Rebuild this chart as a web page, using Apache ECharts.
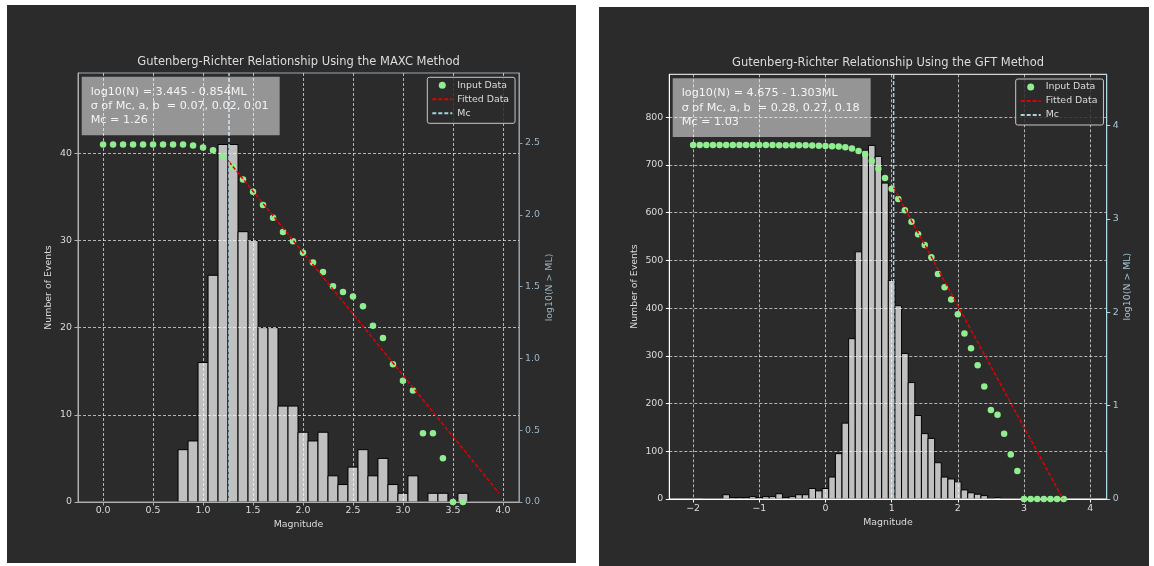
<!DOCTYPE html>
<html>
<head>
<meta charset="utf-8">
<script src="https://cdn.jsdelivr.net/npm/echarts@6/dist/echarts.min.js"></script>
<style>
html,body{margin:0;padding:0;background:#ffffff;}
#chart{width:1154px;height:566px;}
</style>
</head>
<body>
<div id="chart"></div>
<script>
// ===================== DATA: MAXC panel (left) =====================
const maxcTitle = 'Gutenberg-Richter Relationship Using the MAXC Method';
const maxcInfo = ['log10(N) = 3.445 - 0.854ML', 'σ of Mc, a, b  = 0.07, 0.02, 0.01', 'Mc = 1.26'];
const maxcBinWidth = 0.1;
const maxcBinCenters = [0.8, 0.9, 1.0, 1.1, 1.2, 1.3, 1.4, 1.5, 1.6, 1.7, 1.8, 1.9, 2.0, 2.1, 2.2, 2.3, 2.4, 2.5, 2.6, 2.7, 2.8, 2.9, 3.0, 3.1, 3.2, 3.3, 3.4, 3.5, 3.6];
const maxcCounts     = [6,   7,   16,  26,  41,  41,  31,  30,  20,  20,  11,  11,  8,   7,   8,   3,   2,   4,   6,   3,   5,   2,   1,   3,   0,   1,   1,   0,   1];
const maxcMags = [0.0, 0.1, 0.2, 0.3, 0.4, 0.5, 0.6, 0.7, 0.8, 0.9, 1.0, 1.1, 1.2, 1.3, 1.4, 1.5, 1.6, 1.7, 1.8, 1.9, 2.0, 2.1, 2.2, 2.3, 2.4, 2.5, 2.6, 2.7, 2.8, 2.9, 3.0, 3.1, 3.2, 3.3, 3.4, 3.5, 3.6];
const maxcLogN = [2.489, 2.489, 2.489, 2.489, 2.489, 2.489, 2.489, 2.489, 2.489, 2.482, 2.468, 2.449, 2.407, 2.333, 2.245, 2.161, 2.068, 1.980, 1.880, 1.815, 1.736, 1.668, 1.601, 1.503, 1.463, 1.431, 1.363, 1.228, 1.142, 0.959, 0.845, 0.777, 0.479, 0.479, 0.305, 0.0, 0.0];
const maxcFitX = [1.26, 3.96];
const maxcFitY = [2.369, 0.063];
const maxcMc = 1.26;
const maxcXRange = [-0.251, 4.161];
const maxcYMax = 49.2;
const maxcY2Max = 2.987;
const maxcXTicks = [0, 0.5, 1.0, 1.5, 2.0, 2.5, 3.0, 3.5, 4.0];
const maxcYTicks = [0, 10, 20, 30, 40];
const maxcY2Ticks = [0, 0.5, 1.0, 1.5, 2.0, 2.5];

// ===================== DATA: GFT panel (right) =====================
const gftTitle = 'Gutenberg-Richter Relationship Using the GFT Method';
const gftInfo = ['log10(N) = 4.675 - 1.303ML', 'σ of Mc, a, b  = 0.28, 0.27, 0.18', 'Mc = 1.03'];
const gftBinWidth = 0.1;
const gftBinCenters = [-1.8, -1.7, -1.6, -1.5, -1.4, -1.3, -1.2, -1.1, -1.0, -0.9, -0.8, -0.7, -0.6, -0.5, -0.4, -0.3, -0.2, -0.1, 0.0, 0.1, 0.2, 0.3, 0.4, 0.5, 0.6, 0.7, 0.8, 0.9, 1.0, 1.1, 1.2, 1.3, 1.4, 1.5, 1.6, 1.7, 1.8, 1.9, 2.0, 2.1, 2.2, 2.3, 2.4, 2.5, 2.6, 2.7, 2.8, 2.9];
const gftCounts     = [1,    1,    1,    9,    3,    3,    3,    5,    3,    5,    5,    11,   3,    5,    9,    9,    22,   17,   22,  46,  95,  159, 336, 518, 731, 741, 718, 662, 458, 405, 305, 244, 175, 137, 127, 76,  46,  42,  36,  19,  13,  10,  7,   1,   3,   1,   1,   1];
const gftMags = [-2.0, -1.9, -1.8, -1.7, -1.6, -1.5, -1.4, -1.3, -1.2, -1.1, -1.0, -0.9, -0.8, -0.7, -0.6, -0.5, -0.4, -0.3, -0.2, -0.1, 0.0, 0.1, 0.2, 0.3, 0.4, 0.5, 0.6, 0.7, 0.8, 0.9, 1.0, 1.1, 1.2, 1.3, 1.4, 1.5, 1.6, 1.7, 1.8, 1.9, 2.0, 2.1, 2.2, 2.3, 2.4, 2.5, 2.6, 2.7, 2.8, 2.9, 3.0, 3.1, 3.2, 3.3, 3.4, 3.5, 3.6];
const gftLogN = [3.790, 3.790, 3.790, 3.790, 3.790, 3.790, 3.789, 3.789, 3.789, 3.789, 3.789, 3.789, 3.789, 3.787, 3.787, 3.787, 3.787, 3.787, 3.785, 3.783, 3.780, 3.778, 3.773, 3.765, 3.753, 3.727, 3.689, 3.620, 3.537, 3.437, 3.322, 3.212, 3.091, 2.969, 2.834, 2.719, 2.587, 2.410, 2.267, 2.137, 1.978, 1.771, 1.613, 1.431, 1.204, 0.954, 0.903, 0.699, 0.477, 0.301, 0.0, 0.0, 0.0, 0.0, 0.0, 0.0, 0.0];
const gftFitX = [1.03, 3.59];
const gftFitY = [3.333, 0.0];
const gftMc = 1.03;
const gftXRange = [-2.36, 4.25];
const gftYMax = 890;
const gftY2Max = 4.547;
const gftXTicks = [-2, -1, 0, 1, 2, 3, 4];
const gftYTicks = [0, 100, 200, 300, 400, 500, 600, 700, 800];
const gftY2Ticks = [0, 1, 2, 3, 4];

const legendNames = ['Input Data', 'Fitted Data', 'Mc'];

// ===================== STYLE =====================
const FONT = 'DejaVu Sans';
const PANEL = '#2b2b2b';
const TXT = '#dcdcdc';
const GRIDLINE = { color: 'rgba(255,255,255,0.72)', type: [3, 2], width: 0.9 };
const NOSYM = { color: 'rgba(0,0,0,0)', borderWidth: 0, opacity: 0 };

function zip(a, b) { return a.map((v, i) => [v, b[i]]); }

function histRender(binW) {
  return function (params, api) {
    const c = api.value(0), n = api.value(1);
    if (!n) return null;
    const p0 = api.coord([c - binW / 2, n]);
    const p1 = api.coord([c + binW / 2, 0]);
    return {
      type: 'rect',
      shape: { x: p0[0], y: p0[1], width: p1[0] - p0[0], height: p1[1] - p0[1] },
      style: { fill: '#c0c0c0', stroke: '#000000', lineWidth: 1 }
    };
  };
}

function fmtDec1(v) { return v.toFixed(1); }
function fmtInt(v) { return v < 0 ? '\u2212' + Math.abs(v) : String(v); }

function xAxisCfg(grid, range, ticks, fmt, lineColor, margin, nameGap) {
  return {
    type: 'value', gridIndex: grid, min: range[0], max: range[1],
    name: 'Magnitude', nameLocation: 'middle', nameGap: nameGap,
    nameTextStyle: { color: TXT, fontSize: 9.4, fontFamily: FONT },
    axisLine: { show: true, onZero: false, lineStyle: { color: lineColor, width: 1 } },
    axisTick: { show: true, customValues: ticks, length: 3.5, lineStyle: { color: lineColor } },
    axisLabel: { customValues: ticks, formatter: fmt, color: TXT, fontSize: 9.4, fontFamily: FONT, margin: margin },
    splitLine: { show: true, lineStyle: GRIDLINE }
  };
}

function yLeftCfg(grid, max, ticks, lineColor, nameGap) {
  return {
    type: 'value', gridIndex: grid, position: 'left', min: 0, max: max,
    name: 'Number of Events', nameLocation: 'middle', nameGap: nameGap, nameRotate: 90,
    nameTextStyle: { color: TXT, fontSize: 9.4, fontFamily: FONT },
    axisLine: { show: true, onZero: false, lineStyle: { color: lineColor, width: 1 } },
    axisTick: { show: true, customValues: ticks, length: 3.5, lineStyle: { color: lineColor } },
    axisLabel: { customValues: ticks, color: TXT, fontSize: 9.4, fontFamily: FONT, margin: 6 },
    splitLine: { show: true, lineStyle: GRIDLINE }
  };
}

function yRightCfg(grid, max, ticks, fmt, lineColor, labelColor, nameGap) {
  return {
    type: 'value', gridIndex: grid, position: 'right', min: 0, max: max,
    name: 'log10(N > ML)', nameLocation: 'middle', nameGap: nameGap, nameRotate: 90,
    nameTextStyle: { color: labelColor, fontSize: 9.4, fontFamily: FONT },
    axisLine: { show: true, onZero: false, lineStyle: { color: lineColor, width: 1 } },
    axisTick: { show: true, customValues: ticks, length: 3.5, lineStyle: { color: lineColor } },
    axisLabel: { customValues: ticks, formatter: fmt, color: labelColor, fontSize: 9.4, fontFamily: FONT, margin: 6 },
    splitLine: { show: false }
  };
}

function panelSeries(xi, yi, y2i, centers, counts, binW, mags, logN, fitX, fitY, mc, y2Max) {
  return [
    {
      type: 'custom', name: 'hist', xAxisIndex: xi, yAxisIndex: yi, z: -1,
      renderItem: histRender(binW), data: zip(centers, counts), silent: true
    },
    {
      type: 'scatter', name: 'Input Data', xAxisIndex: xi, yAxisIndex: y2i, z: 3,
      symbol: 'circle', symbolSize: 6.5, itemStyle: { color: '#90ee90', opacity: 1 },
      data: zip(mags, logN), silent: true
    },
    {
      type: 'line', name: 'Fitted Data', xAxisIndex: xi, yAxisIndex: y2i, z: 4,
      symbol: 'none', lineStyle: { color: '#e00000', width: 1.5, type: [4, 2] },
      itemStyle: NOSYM,
      data: zip(fitX, fitY), silent: true
    },
    {
      type: 'line', name: 'Mc', xAxisIndex: xi, yAxisIndex: y2i, z: 4,
      symbol: 'none', lineStyle: { color: '#a8d0e2', width: 1.5, type: [4, 2] },
      itemStyle: NOSYM,
      data: [[mc, 0], [mc, y2Max]], silent: true
    }
  ];
}

function legendCfg(left, top) {
  return {
    data: legendNames, orient: 'vertical', left: left, top: top,
    itemWidth: 20, itemHeight: 7, itemGap: 0,
    padding: [1, 6, 3, 4],
    backgroundColor: 'rgba(43,43,43,0.85)', borderColor: '#c8c8c8', borderWidth: 1, borderRadius: 2,
    textStyle: { color: TXT, fontSize: 9.4, fontFamily: FONT, lineHeight: 14 },
    selectedMode: false
  };
}

function infoCfg(left, top, lines) {
  return {
    text: lines.join('\n'), left: left, top: top,
    padding: [8, 11, 8, 9],
    backgroundColor: 'rgba(255,255,255,0.5)',
    textStyle: { color: '#f4f4f4', fontSize: 11.2, fontWeight: 'normal', fontFamily: FONT, lineHeight: 14.2 }
  };
}

function titleCfg(cx, top, text) {
  return {
    text: text, left: cx, top: top, textAlign: 'center', padding: 0,
    textStyle: { color: TXT, fontSize: 11.5, fontWeight: 'normal', fontFamily: FONT }
  };
}

const option = {
  animation: false,
  backgroundColor: '#ffffff',
  graphic: [
    { type: 'rect', z: -100, shape: { x: 7, y: 5, width: 569, height: 558 }, style: { fill: PANEL } },
    { type: 'rect', z: -100, shape: { x: 599, y: 7, width: 550, height: 559 }, style: { fill: PANEL } }
  ],
  title: [
    titleCfg(298.5, 56.5, maxcTitle),
    titleCfg(888, 57.5, gftTitle),
    infoCfg(81.7, 76.7, maxcInfo),
    infoCfg(672.7, 78.3, gftInfo)
  ],
  legend: [legendCfg(427.3, 77.3), legendCfg(1015.7, 79)],
  grid: [
    { left: 78, top: 73, width: 441, height: 429, show: true, borderColor: '#9aaab5', borderWidth: 1, backgroundColor: 'transparent' },
    { left: 669.3, top: 74.3, width: 437.4, height: 424.7, show: true, borderColor: '#ffffff', borderWidth: 1, backgroundColor: 'transparent' }
  ],
  xAxis: [
    xAxisCfg(0, maxcXRange, maxcXTicks, fmtDec1, '#b0b0b0', 4, 17),
    xAxisCfg(1, gftXRange, gftXTicks, fmtInt, '#ffffff', 5, 18)
  ],
  yAxis: [
    yLeftCfg(0, maxcYMax, maxcYTicks, '#b0b0b0', 25),
    yRightCfg(0, maxcY2Max, maxcY2Ticks, fmtDec1, '#8aa4b4', '#9cb6c6', 26),
    yLeftCfg(1, gftYMax, gftYTicks, '#ffffff', 30),
    yRightCfg(1, gftY2Max, gftY2Ticks, fmtInt, '#add8e6', '#a8c8d8', 14)
  ],
  series: [].concat(
    panelSeries(0, 0, 1, maxcBinCenters, maxcCounts, maxcBinWidth, maxcMags, maxcLogN, maxcFitX, maxcFitY, maxcMc, maxcY2Max),
    panelSeries(1, 2, 3, gftBinCenters, gftCounts, gftBinWidth, gftMags, gftLogN, gftFitX, gftFitY, gftMc, gftY2Max)
  )
};

const chart = echarts.init(document.getElementById('chart'), null, { renderer: 'canvas' });
chart.setOption(option);
</script>
</body>
</html>
